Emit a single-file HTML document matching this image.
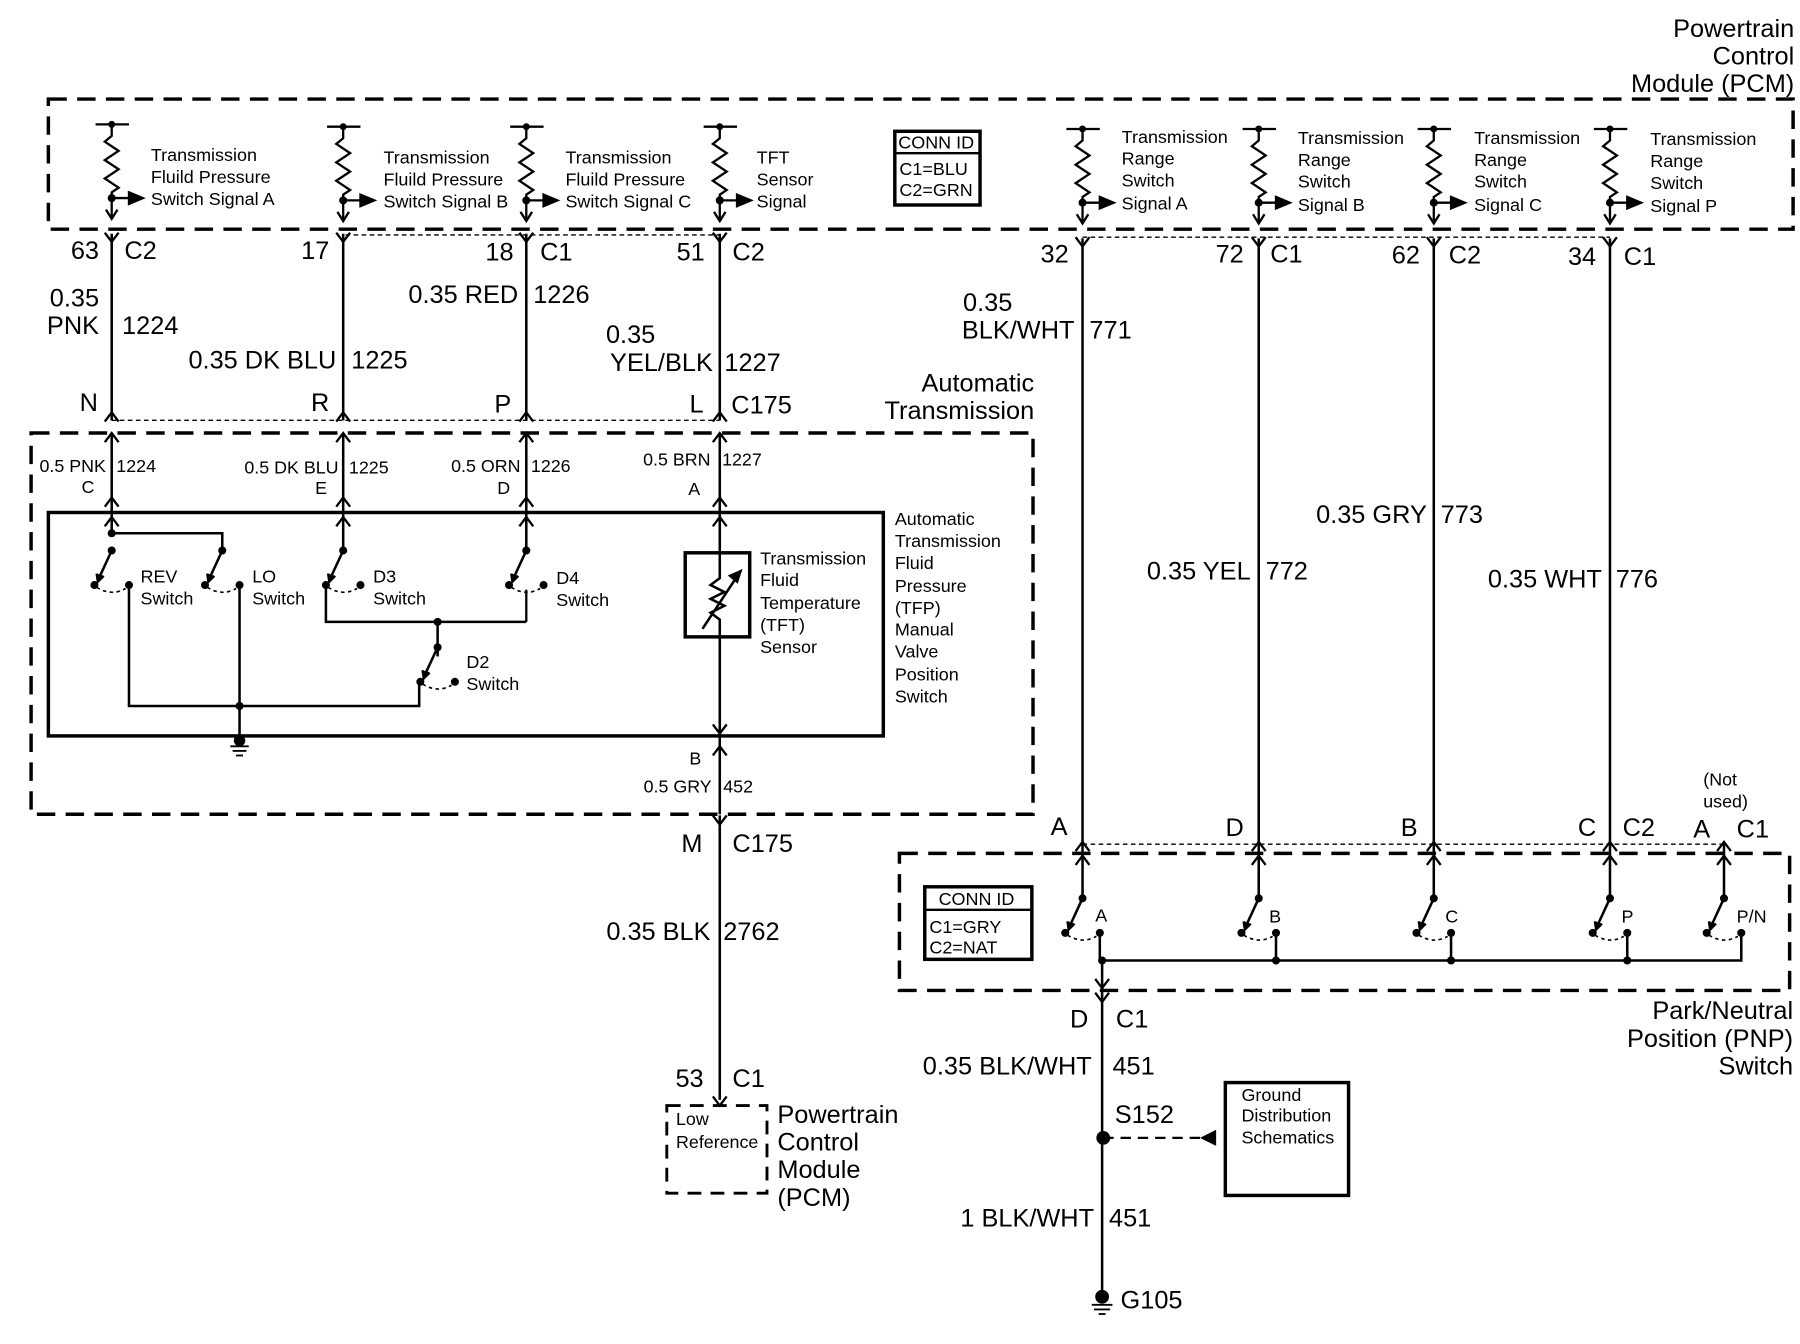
<!DOCTYPE html>
<html><head><meta charset="utf-8"><style>
html,body{margin:0;padding:0;background:#fff}
svg{display:block}
text{font-family:"Liberation Sans",Arial,sans-serif;fill:#000}
.b{font-size:22px}
.s{font-size:15.6px}
.t{font-size:15.5px}
.r{text-anchor:end}
</style></head><body>
<svg width="1800" height="1344" viewBox="0 0 1563 1167" preserveAspectRatio="none" xmlns="http://www.w3.org/2000/svg">
<defs>
<g id="res" stroke="#000" stroke-width="2" fill="none">
<line x1="-14" y1="0" x2="15" y2="0"/>
<circle r="3" fill="#000" stroke="none"/>
<path d="M0 0 V10 L-6 15 L6 23 L-6 31 L6 39 L-6 47 L6 55 L0 59 V82"/>
<circle cy="64" r="3.5" fill="#000" stroke="none"/>
<line x1="0" y1="64" x2="16" y2="64"/>
<path d="M15 59 L27 64 L15 69Z" fill="#000"/>
<path d="M-5 74 L0 82 L5 74"/>
</g>
<g id="sw" stroke="#000" stroke-width="2.2" fill="none">
<circle r="3.5" fill="#000" stroke="none"/>
<line x1="0" y1="0" x2="-12" y2="26"/>
<path d="M-13 20 L-12 27 L-7 22" fill="#000"/>
<circle cx="-15" cy="30" r="3.5" fill="#000" stroke="none"/>
<path d="M-13 32 Q0 40 12 33" stroke-width="1.4" stroke-dasharray="3 3"/>
<circle cx="15" cy="30" r="3.5" fill="#000" stroke="none"/>
</g>
<path id="fy" d="M-6 -8 L0 0 L6 -8" stroke="#000" stroke-width="2" fill="none"/>
<path id="ua" d="M-6 8 L0 0 L6 8" stroke="#000" stroke-width="2" fill="none"/>
<path id="da" d="M-6 -8 L0 0 L6 -8" stroke="#000" stroke-width="2" fill="none"/>
</defs>

<text class="b r" x="1558" y="32">Powertrain</text>
<text class="b r" x="1558" y="56">Control</text>
<text class="b r" x="1558" y="80">Module (PCM)</text>

<rect x="42" y="86" width="1515" height="113" fill="none" stroke="#000" stroke-width="3" stroke-dasharray="16 9"/>

<use href="#res" x="97" y="108"/>
<use href="#res" x="298" y="110"/>
<use href="#res" x="457" y="110"/>
<use href="#res" x="625" y="110"/>
<use href="#res" x="940" y="112"/>
<use href="#res" x="1093" y="112"/>
<use href="#res" x="1245" y="112"/>
<use href="#res" x="1398" y="112"/>

<g class="s">
<text x="131" y="140">Transmission</text><text x="131" y="159">Fluild Pressure</text><text x="131" y="178">Switch Signal A</text>
<text x="333" y="142">Transmission</text><text x="333" y="161">Fluild Pressure</text><text x="333" y="180">Switch Signal B</text>
<text x="491" y="142">Transmission</text><text x="491" y="161">Fluild Pressure</text><text x="491" y="180">Switch Signal C</text>
<text x="657" y="142">TFT</text><text x="657" y="161">Sensor</text><text x="657" y="180">Signal</text>
<text x="974" y="124">Transmission</text><text x="974" y="143">Range</text><text x="974" y="162">Switch</text><text x="974" y="182">Signal A</text>
<text x="1127" y="125">Transmission</text><text x="1127" y="144">Range</text><text x="1127" y="163">Switch</text><text x="1127" y="183">Signal B</text>
<text x="1280" y="125">Transmission</text><text x="1280" y="144">Range</text><text x="1280" y="163">Switch</text><text x="1280" y="183">Signal C</text>
<text x="1433" y="126">Transmission</text><text x="1433" y="145">Range</text><text x="1433" y="164">Switch</text><text x="1433" y="184">Signal P</text>
</g>

<rect x="777" y="114" width="74" height="64" fill="none" stroke="#000" stroke-width="3"/>
<line x1="777" y1="133" x2="851" y2="133" stroke="#000" stroke-width="2"/>
<text class="s" x="780" y="129">CONN ID</text>
<text class="s" x="781" y="152">C1=BLU</text>
<text class="s" x="781" y="170">C2=GRN</text>

<g stroke="#000" stroke-width="2.2">
<line x1="97" y1="203" x2="97" y2="365"/>
<line x1="298" y1="203" x2="298" y2="365"/>
<line x1="457" y1="203" x2="457" y2="365"/>
<line x1="625" y1="203" x2="625" y2="365"/>
<line x1="940" y1="207" x2="940" y2="733"/>
<line x1="1093" y1="207" x2="1093" y2="733"/>
<line x1="1245" y1="207" x2="1245" y2="733"/>
<line x1="1398" y1="207" x2="1398" y2="733"/>
</g>
<g stroke="#000" stroke-width="1.2" stroke-dasharray="4 3">
<line x1="300" y1="204" x2="625" y2="204"/>
<line x1="97" y1="365" x2="625" y2="365"/>
<line x1="940" y1="206" x2="1398" y2="206"/>
<line x1="940" y1="733" x2="1497" y2="733"/>
</g>
<use href="#fy" x="97" y="210"/><use href="#fy" x="298" y="210"/><use href="#fy" x="457" y="210"/><use href="#fy" x="625" y="210"/>
<use href="#fy" x="940" y="214"/><use href="#fy" x="1093" y="214"/><use href="#fy" x="1245" y="214"/><use href="#fy" x="1398" y="214"/>
<use href="#ua" x="97" y="358"/><use href="#ua" x="298" y="358"/><use href="#ua" x="457" y="358"/><use href="#ua" x="625" y="358"/>

<g class="b">
<text class="r" x="86" y="225">63</text><text x="108" y="225">C2</text>
<text class="r" x="286" y="225">17</text>
<text class="r" x="446" y="226">18</text><text x="469" y="226">C1</text>
<text class="r" x="612" y="226">51</text><text x="636" y="226">C2</text>
<text class="r" x="86" y="266">0.35</text><text class="r" x="86" y="290">PNK</text><text x="106" y="290">1224</text>
<text class="r" x="292" y="320">0.35 DK BLU</text><text x="305" y="320">1225</text>
<text class="r" x="450" y="263">0.35 RED</text><text x="463" y="263">1226</text>
<text class="r" x="569" y="298">0.35</text><text class="r" x="619" y="322">YEL/BLK</text><text x="629" y="322">1227</text>
<text class="r" x="85" y="357">N</text><text class="r" x="286" y="357">R</text><text class="r" x="444" y="358">P</text><text class="r" x="611" y="358">L</text>
<text x="635" y="359">C175</text>
<text class="r" x="898" y="340">Automatic</text><text class="r" x="898" y="364">Transmission</text>

<text class="r" x="928" y="228">32</text>
<text class="r" x="1080" y="228">72</text><text x="1103" y="228">C1</text>
<text class="r" x="1233" y="229">62</text><text x="1258" y="229">C2</text>
<text class="r" x="1386" y="230">34</text><text x="1410" y="230">C1</text>
<text class="r" x="879" y="270">0.35</text><text class="r" x="933" y="294">BLK/WHT</text><text x="946" y="294">771</text>
<text class="r" x="1086" y="503">0.35 YEL</text><text x="1099" y="503">772</text>
<text class="r" x="1239" y="454">0.35 GRY</text><text x="1251" y="454">773</text>
<text class="r" x="1391" y="510">0.35 WHT</text><text x="1403" y="510">776</text>
<text class="r" x="927" y="725">A</text><text class="r" x="1080" y="726">D</text><text class="r" x="1231" y="726">B</text>
<text class="r" x="1386" y="726">C</text><text x="1409" y="726">C2</text>
<text class="r" x="1485" y="727">A</text><text x="1508" y="727">C1</text>
</g>
<text class="t" x="1479" y="682">(Not</text><text class="t" x="1479" y="701">used)</text>

<rect x="27" y="376" width="870" height="331" fill="none" stroke="#000" stroke-width="3" stroke-dasharray="16 9"/>
<g stroke="#000" stroke-width="2.2">
<line x1="97" y1="376" x2="97" y2="463"/>
<line x1="298" y1="376" x2="298" y2="478"/>
<line x1="457" y1="376" x2="457" y2="478"/>
<line x1="625" y1="376" x2="625" y2="707"/>
</g>
<use href="#ua" x="97" y="376"/><use href="#ua" x="298" y="376"/><use href="#ua" x="457" y="376"/><use href="#ua" x="625" y="376"/>
<use href="#ua" x="97" y="432"/><use href="#ua" x="298" y="432"/><use href="#ua" x="457" y="432"/><use href="#ua" x="625" y="432"/>
<use href="#ua" x="97" y="449"/><use href="#ua" x="298" y="449"/><use href="#ua" x="457" y="449"/><use href="#ua" x="625" y="449"/>
<g class="t">
<text class="r" x="92" y="410">0.5 PNK</text><text x="101" y="410">1224</text><text class="r" x="82" y="428">C</text>
<text class="r" x="294" y="411">0.5 DK BLU</text><text x="303" y="411">1225</text><text class="r" x="284" y="429">E</text>
<text class="r" x="452" y="410">0.5 ORN</text><text x="461" y="410">1226</text><text class="r" x="443" y="429">D</text>
<text class="r" x="617" y="404">0.5 BRN</text><text x="627" y="404">1227</text><text class="r" x="608" y="430">A</text>
<text class="r" x="609" y="664">B</text>
<text class="r" x="618" y="688">0.5 GRY</text><text x="628" y="688">452</text>
</g>

<rect x="42" y="445" width="725" height="194" fill="none" stroke="#000" stroke-width="3"/>
<g stroke="#000" stroke-width="2.2" fill="none">
<path d="M97 463 H193 V478"/>
<path d="M112 508 V613 H364 V594"/>
<path d="M208 508 V645"/>
<path d="M283 508 V540 H457 "/>
<path d="M380 540 V570"/>
</g>
<circle cx="97" cy="463" r="3.5"/><circle cx="208" cy="613" r="3.5"/><circle cx="380" cy="540" r="3.5"/>
<use href="#sw" x="97" y="478"/>
<use href="#sw" x="193" y="478"/>
<use href="#sw" x="298" y="478"/>
<use href="#sw" x="457" y="478"/>
<use href="#sw" x="380" y="562"/>
<g stroke="#000" stroke-width="2" fill="none"><path d="M457 540 V512"/></g>
<circle cx="208" cy="643" r="5"/>
<g stroke="#000" stroke-width="1.6"><line x1="200" y1="648" x2="216" y2="648"/><line x1="202" y1="652" x2="214" y2="652"/><line x1="205" y1="656" x2="211" y2="656"/></g>
<g class="s">
<text x="122" y="506">REV</text><text x="122" y="525">Switch</text>
<text x="219" y="506">LO</text><text x="219" y="525">Switch</text>
<text x="324" y="506">D3</text><text x="324" y="525">Switch</text>
<text x="483" y="507">D4</text><text x="483" y="526">Switch</text>
<text x="405" y="580">D2</text><text x="405" y="599">Switch</text>
<text x="660" y="490">Transmission</text><text x="660" y="509">Fluid</text><text x="660" y="529">Temperature</text><text x="660" y="548">(TFT)</text><text x="660" y="567">Sensor</text>
<text x="777" y="456">Automatic</text><text x="777" y="475">Transmission</text><text x="777" y="494">Fluid</text><text x="777" y="514">Pressure</text><text x="777" y="533">(TFP)</text><text x="777" y="552">Manual</text><text x="777" y="571">Valve</text><text x="777" y="591">Position</text><text x="777" y="610">Switch</text>
</g>
<rect x="595" y="480" width="56" height="73" fill="#fff" stroke="#000" stroke-width="3"/>
<g stroke="#000" stroke-width="2.2" fill="none">
<line x1="625" y1="445" x2="625" y2="480"/><line x1="625" y1="553" x2="625" y2="640"/>
<path d="M625 480 V502 L617 508 L629 514 L617 520 L629 526 L617 532 L625 538 V553"/>
<line x1="610" y1="546" x2="643" y2="496"/>
<path d="M643 496 L634 500 L640 505Z" fill="#000"/>
</g>
<use href="#da" x="625" y="637"/>
<use href="#ua" x="625" y="648"/>
<use href="#fy" x="625" y="716"/>
<line x1="625" y1="708" x2="625" y2="955" stroke="#000" stroke-width="2.2"/>
<use href="#fy" x="625" y="960"/>
<g class="b">
<text class="r" x="610" y="740">M</text><text x="636" y="740">C175</text>
<text class="r" x="617" y="816">0.35 BLK</text><text x="628" y="816">2762</text>
<text class="r" x="611" y="944">53</text><text x="636" y="944">C1</text>
<text x="675" y="975">Powertrain</text><text x="675" y="999">Control</text><text x="675" y="1023">Module</text><text x="675" y="1047">(PCM)</text>
</g>
<rect x="579" y="960" width="87" height="76" fill="none" stroke="#000" stroke-width="2.5" stroke-dasharray="12 8"/>
<text class="t" x="587" y="977">Low</text><text class="t" x="587" y="997">Reference</text>

<rect x="781" y="741" width="773" height="119" fill="none" stroke="#000" stroke-width="3" stroke-dasharray="16 9"/>
<line x1="1497" y1="733" x2="1497" y2="780" stroke="#000" stroke-width="2.2"/>
<g stroke="#000" stroke-width="2.2">
<line x1="940" y1="733" x2="940" y2="780"/><line x1="1093" y1="733" x2="1093" y2="780"/><line x1="1245" y1="733" x2="1245" y2="780"/><line x1="1398" y1="733" x2="1398" y2="780"/>
</g>
<use href="#ua" x="940" y="731"/><use href="#ua" x="1093" y="731"/><use href="#ua" x="1245" y="731"/><use href="#ua" x="1398" y="731"/><use href="#ua" x="1497" y="731"/>
<use href="#ua" x="940" y="743"/><use href="#ua" x="1093" y="743"/><use href="#ua" x="1245" y="743"/><use href="#ua" x="1398" y="743"/><use href="#ua" x="1497" y="743"/>
<use href="#sw" x="940" y="780"/><use href="#sw" x="1093" y="780"/><use href="#sw" x="1245" y="780"/><use href="#sw" x="1398" y="780"/><use href="#sw" x="1497" y="780"/>
<g stroke="#000" stroke-width="2.2" fill="none">
<path d="M955 810 V834 H1512 V810"/>
<path d="M1108 810 V834 M1260 810 V834 M1413 810 V834"/>
<line x1="957" y1="834" x2="957" y2="1125"/>
</g>
<circle cx="957" cy="834" r="3.5"/><circle cx="1108" cy="834" r="3.5"/><circle cx="1260" cy="834" r="3.5"/><circle cx="1413" cy="834" r="3.5"/>
<use href="#da" x="957" y="858"/>
<use href="#fy" x="957" y="870"/>
<g class="s"><text x="951" y="800">A</text><text x="1102" y="801">B</text><text x="1255" y="801">C</text><text x="1408" y="801">P</text><text x="1508" y="801">P/N</text></g>
<rect x="803" y="770" width="93" height="63" fill="none" stroke="#000" stroke-width="3"/>
<line x1="803" y1="790" x2="896" y2="790" stroke="#000" stroke-width="2"/>
<text class="s" x="815" y="786">CONN ID</text><text class="s" x="807" y="810">C1=GRY</text><text class="s" x="807" y="828">C2=NAT</text>
<g class="b">
<text class="r" x="1557" y="885">Park/Neutral</text><text class="r" x="1557" y="909">Position (PNP)</text><text class="r" x="1557" y="933">Switch</text>
<text class="r" x="945" y="892">D</text><text x="969" y="892">C1</text>
<text class="r" x="948" y="933">0.35 BLK/WHT</text><text x="966" y="933">451</text>
<text x="968" y="975">S152</text>
<text class="r" x="950" y="1065">1 BLK/WHT</text><text x="963" y="1065">451</text>
<text x="973" y="1136">G105</text>
</g>
<circle cx="958" cy="988" r="6"/>
<line x1="958" y1="988" x2="1042" y2="988" stroke="#000" stroke-width="2" stroke-dasharray="9 6"/>
<path d="M1042 988 L1056 981 L1056 995Z"/>
<rect x="1064" y="940" width="107" height="98" fill="none" stroke="#000" stroke-width="3"/>
<g class="s"><text x="1078" y="956">Ground</text><text x="1078" y="974">Distribution</text><text x="1078" y="993">Schematics</text></g>
<circle cx="957" cy="1126" r="6"/>
<g stroke="#000" stroke-width="1.6"><line x1="948" y1="1133" x2="966" y2="1133"/><line x1="950" y1="1137" x2="964" y2="1137"/><line x1="954" y1="1141" x2="960" y2="1141"/></g>
</svg>
</body></html>
